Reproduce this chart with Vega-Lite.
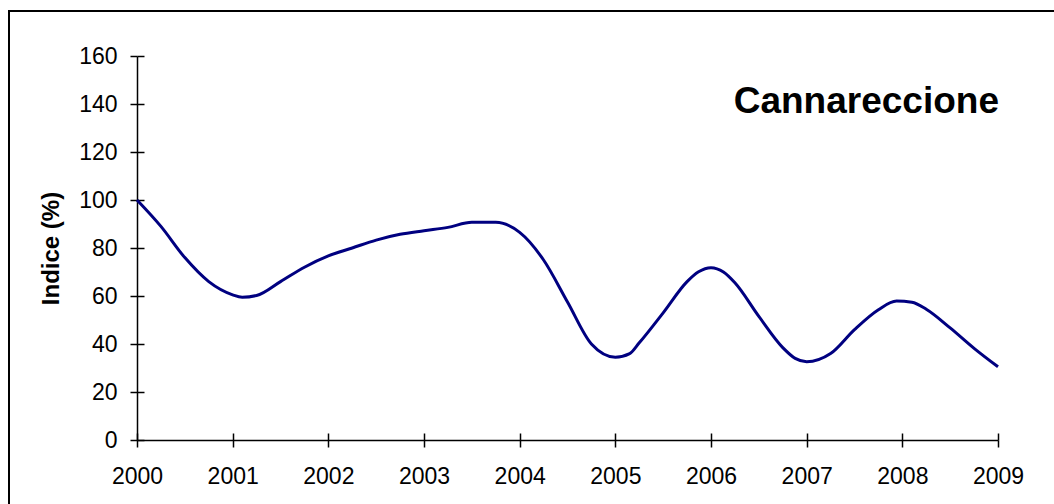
{
  "$schema": "https://vega.github.io/schema/vega-lite/v6.json",
  "width": 1051,
  "height": 499,
  "autosize": {"type": "none"},
  "padding": {"left": 9, "top": 11, "right": -6, "bottom": -6},
  "background": "white",
  "config": {
    "view": {"stroke": "black", "strokeWidth": 2},
    "font": "Liberation Sans"
  },
  "title": {
    "text": "Cannareccione",
    "anchor": "end",
    "frame": "group",
    "orient": "top",
    "offset": 0,
    "baseline": "alphabetic",
    "dx": -61,
    "dy": 139,
    "fontSize": 37,
    "fontWeight": "bold",
    "font": "Liberation Sans",
    "color": "black"
  },
  "data": {
    "values": [
      {"year": 2000.0, "index": 100},
      {"year": 2000.25, "index": 89},
      {"year": 2000.5, "index": 76},
      {"year": 2000.75, "index": 66},
      {"year": 2001.0, "index": 60.5},
      {"year": 2001.1, "index": 59.5},
      {"year": 2001.25, "index": 60.2},
      {"year": 2001.5, "index": 66},
      {"year": 2001.75, "index": 72},
      {"year": 2002.0, "index": 76.7},
      {"year": 2002.25, "index": 80},
      {"year": 2002.5, "index": 83.3},
      {"year": 2002.75, "index": 85.7},
      {"year": 2003.0, "index": 87.2},
      {"year": 2003.25, "index": 88.6},
      {"year": 2003.5, "index": 90.7},
      {"year": 2003.75, "index": 90.7},
      {"year": 2004.0, "index": 86.5},
      {"year": 2004.25, "index": 75},
      {"year": 2004.5, "index": 57.5},
      {"year": 2004.75, "index": 40},
      {"year": 2005.0, "index": 34.5},
      {"year": 2005.15, "index": 36},
      {"year": 2005.25, "index": 40.5},
      {"year": 2005.5, "index": 53},
      {"year": 2005.75, "index": 66},
      {"year": 2005.87, "index": 70.1},
      {"year": 2006.0, "index": 71.8},
      {"year": 2006.13, "index": 70},
      {"year": 2006.25, "index": 65.5},
      {"year": 2006.5, "index": 51.5},
      {"year": 2006.75, "index": 38.5},
      {"year": 2006.88, "index": 34},
      {"year": 2007.0, "index": 32.6},
      {"year": 2007.25, "index": 36},
      {"year": 2007.5, "index": 46},
      {"year": 2007.75, "index": 54.3},
      {"year": 2007.94, "index": 57.9},
      {"year": 2008.1, "index": 57.4},
      {"year": 2008.25, "index": 54.5},
      {"year": 2008.5, "index": 46.7},
      {"year": 2008.75, "index": 38.2},
      {"year": 2009.0, "index": 30.5}
    ]
  },
  "layer": [
    {
      "mark": {"type": "line", "color": "#000080", "strokeWidth": 3, "interpolate": "monotone"},
      "encoding": {
        "x": {
          "field": "year",
          "type": "quantitative",
          "scale": {"domain": [2000, 2009], "range": [128, 989], "nice": false, "zero": false},
          "axis": {
            "orient": "bottom",
            "offset": -70,
            "values": [2000, 2001, 2002, 2003, 2004, 2005, 2006, 2007, 2008, 2009],
            "format": "d",
            "grid": false,
            "title": null,
            "domainColor": "black",
            "domainWidth": 1.5,
            "tickColor": "black",
            "tickWidth": 1.5,
            "tickSize": 7,
            "labelFont": "Liberation Sans",
            "labelFontSize": 23,
            "labelColor": "black",
            "labelPadding": 18,
            "labelFlush": false,
            "labelOverlap": false
          }
        },
        "y": {
          "field": "index",
          "type": "quantitative",
          "scale": {"domain": [0, 160], "range": [429, 45], "nice": false},
          "axis": {
            "orient": "left",
            "offset": -128,
            "values": [0, 20, 40, 60, 80, 100, 120, 140, 160],
            "grid": false,
            "domainColor": "black",
            "domainWidth": 1.5,
            "tickColor": "black",
            "tickWidth": 1.5,
            "tickSize": 7,
            "labelFont": "Liberation Sans",
            "labelFontSize": 23,
            "labelColor": "black",
            "labelPadding": 13,
            "labelFlush": false,
            "labelOverlap": false,
            "title": "Indice (%)",
            "titleFont": "Liberation Sans",
            "titleFontSize": 24,
            "titleFontWeight": "bold",
            "titleColor": "black",
            "titlePadding": 15
          }
        }
      }
    },
    {
      "mark": {"type": "line", "strokeOpacity": 0, "interpolate": "monotone"},
      "encoding": {
        "x": {
          "field": "year",
          "type": "quantitative",
          "axis": {
            "orient": "bottom",
            "offset": -77,
            "values": [2000, 2001, 2002, 2003, 2004, 2005, 2006, 2007, 2008, 2009],
            "domain": false,
            "labels": false,
            "grid": false,
            "title": null,
            "tickColor": "black",
            "tickWidth": 1.5,
            "tickSize": 7
          }
        },
        "y": {
          "field": "index",
          "type": "quantitative",
          "axis": {
            "orient": "left",
            "offset": -135,
            "values": [0, 20, 40, 60, 80, 100, 120, 140, 160],
            "domain": false,
            "labels": false,
            "grid": false,
            "title": null,
            "tickColor": "black",
            "tickWidth": 1.5,
            "tickSize": 7
          }
        }
      }
    }
  ],
  "resolve": {"axis": {"x": "independent", "y": "independent"}}
}
